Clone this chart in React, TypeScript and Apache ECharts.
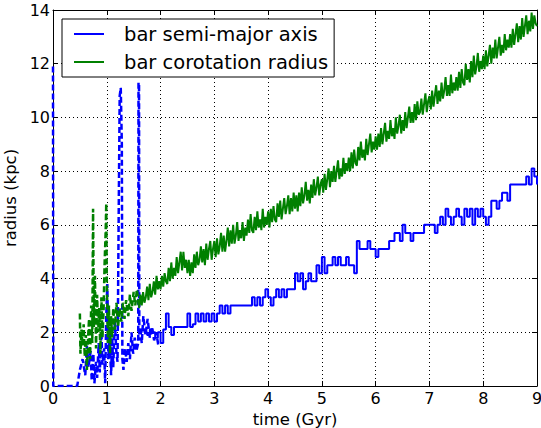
import React, { useEffect, useRef } from "react";
import * as echarts from "echarts";

const xTicks = [0, 1, 2, 3, 4, 5, 6, 7, 8, 9];
const yTicks = [0, 2, 4, 6, 8, 10, 12, 14];

const seriesNames = ["bar semi-major axis", "bar corotation radius"];

// sampling grids of the "solid" (well defined bar) phase
const solidStart = 1.6;
const semiMajorStep = 0.05;
const corotationStep = 0.025;

// bar semi-major axis (kpc), solid phase, 1.60 .. 9.00 Gyr every 0.05 Gyr
const semiMajorSolid = [
  2.0, 2.1, 2.0, 1.9, 2.1, 2.0, 1.8, 2.0,
  1.6, 2.1, 2.7, 2.2, 1.9, 2.2, 2.2, 2.2, 2.2, 2.2,
  2.7, 2.2, 2.3, 2.7, 2.4, 2.7, 2.4, 2.7, 2.4, 2.7,
  2.4, 2.7, 3.0, 2.7, 3.0, 2.7, 3.0, 3.0, 3.0, 3.0,
  3.0, 3.0, 3.0, 3.0, 3.3, 3.0, 3.3, 3.0, 3.3, 3.6,
  3.3, 3.0, 3.3, 3.6, 3.3, 3.6, 3.3, 3.6, 3.6, 3.6,
  4.2, 3.9, 4.2, 3.6, 3.9, 4.2, 3.9, 3.9, 4.5, 4.2,
  4.8, 4.2, 4.5, 4.5, 4.8, 4.5, 4.8, 4.5, 4.5, 4.8,
  4.5, 4.5, 4.2, 5.4, 5.1, 5.1, 5.1, 5.4, 5.1, 5.1,
  4.8, 5.1, 5.1, 5.1, 5.1, 5.4, 5.4, 5.7, 5.7, 5.4,
  6.0, 5.7, 5.7, 5.4, 5.7, 5.7, 5.7, 5.7, 6.0, 6.0,
  6.0, 6.0, 5.7, 6.0, 6.3, 6.0, 6.6, 6.3, 6.0, 6.3,
  6.6, 6.3, 6.0, 6.6, 6.3, 6.6, 6.0, 6.6, 6.3, 6.6,
  6.3, 6.0, 6.3, 6.9, 6.9, 6.6, 6.9, 7.2, 7.2, 6.9,
  7.5, 7.5, 7.5, 7.5, 7.5, 7.5, 7.8, 7.5, 8.1, 7.8,
  7.5,
];

// bar corotation radius (kpc), solid phase, 1.600 .. 9.000 Gyr every 0.025 Gyr
const corotationSolid = [
  2.9, 3.4, 3.0, 3.5, 3.1, 3.3, 3.7, 3.2, 3.8, 3.3, 3.5, 3.9, 3.4, 4.1, 3.6, 3.9,
  3.6, 4.1, 3.7, 4.2, 3.9, 3.8, 4.4, 3.9, 4.6, 4.0, 4.4, 4.1, 4.8, 4.2, 4.6, 5.0, 4.3, 5.0, 4.4, 4.7,
  4.2, 4.7, 4.1, 4.6, 4.2, 4.9, 4.4, 5.0, 4.5, 4.7, 5.2, 4.6, 5.1, 4.5, 5.3, 4.7, 5.1, 5.4, 4.7, 5.1,
  5.4, 4.8, 5.5, 4.9, 5.2, 5.7, 5.0, 5.6, 5.0, 5.4, 5.9, 5.2, 5.8, 5.3, 6.0, 5.3, 5.6, 6.1, 5.4, 5.8,
  5.5, 6.1, 5.4, 5.9, 5.6, 6.2, 5.7, 6.4, 5.8, 5.7, 6.3, 5.8, 6.5, 5.9, 6.2, 5.8, 6.6, 5.9, 6.3, 6.0,
  6.5, 5.9, 6.6, 6.1, 6.7, 6.2, 6.1, 6.8, 6.3, 6.9, 6.2, 6.6, 7.0, 6.4, 6.7, 7.1, 6.4, 7.0, 6.5, 7.2,
  6.6, 7.1, 6.5, 7.2, 6.7, 7.4, 6.8, 7.1, 7.6, 6.9, 7.3, 6.8, 7.5, 7.0, 7.7, 7.1, 7.4, 7.8, 7.1, 7.5,
  7.7, 7.2, 7.9, 7.3, 7.7, 8.1, 7.4, 8.0, 7.6, 8.2, 7.6, 8.0, 8.4, 7.7, 8.1, 7.8, 8.5, 7.9, 8.3, 8.0,
  8.5, 8.0, 8.7, 8.1, 8.8, 8.3, 8.2, 8.9, 8.4, 9.1, 8.5, 8.8, 8.4, 9.2, 8.6, 9.0, 9.4, 8.7, 9.1, 8.8,
  9.3, 8.8, 9.4, 8.9, 9.6, 9.0, 9.4, 9.8, 9.1, 9.5, 9.2, 9.9, 9.3, 9.6, 9.2, 10.0, 9.4, 9.7, 10.1, 9.4,
  9.9, 9.5, 10.2, 9.6, 10.0, 10.4, 9.8, 10.2, 9.8, 10.5, 9.9, 10.6, 10.1, 10.2, 10.7, 10.1, 10.5, 10.9, 10.2, 10.6,
  10.8, 10.3, 11.0, 10.4, 10.8, 11.2, 10.5, 11.0, 10.6, 11.3, 10.7, 11.0, 11.5, 10.8, 11.2, 10.8, 11.6, 10.9, 11.3, 11.0,
  11.5, 11.0, 11.7, 11.1, 11.8, 11.3, 11.2, 12.0, 11.4, 11.8, 11.3, 12.1, 11.5, 12.3, 11.6, 11.9, 12.4, 11.7, 12.1, 11.8,
  12.3, 11.8, 12.5, 11.9, 12.3, 12.7, 12.0, 12.6, 12.2, 12.9, 12.2, 12.6, 13.0, 12.3, 12.7, 12.4, 13.1, 12.5, 12.9, 12.6,
  13.1, 12.6, 13.3, 12.7, 13.1, 13.5, 12.8, 13.4, 12.9, 13.7, 13.0, 13.4, 13.8, 13.1, 13.6, 13.2, 13.9, 13.3, 13.8, 13.5,
  13.4,
];

// early, ill-defined phase: [time (Gyr), radius (kpc)]
const semiMajorEarly: [number, number][] = [
  [0, 11.9], [0.005, 0], [0.45, 0], [0.5, 0.6], [0.55, 1.0], [0.6, 0.4], [0.63, 1.5],
  [0.66, 0.7], [0.7, 1.3], [0.72, 0.2], [0.75, 1.2], [0.77, 0.1], [0.8, 0.9], [0.82, 0.3],
  [0.85, 1.6], [0.87, 0.5], [0.9, 2.0], [0.92, 0.8], [0.95, 1.4], [0.97, 0.1], [0.99, 2.6],
  [1.01, 3.8], [1.03, 1.0], [1.05, 2.2], [1.08, 0.4], [1.1, 1.8], [1.12, 0.7], [1.15, 2.4],
  [1.18, 1.2], [1.2, 0.9], [1.22, 6.0], [1.24, 10.8], [1.26, 11.1], [1.28, 9.0], [1.29, 1.0],
  [1.31, 0.6], [1.34, 1.4], [1.37, 0.9], [1.4, 1.6], [1.43, 1.0], [1.46, 2.0], [1.49, 1.2],
  [1.52, 1.8], [1.55, 1.3], [1.585, 1.6], [1.59, 11.3], [1.6, 11.2], [1.605, 1.7], [1.62, 2.2],
  [1.65, 1.6], [1.68, 2.6], [1.72, 1.9], [1.76, 2.5], [1.8, 1.8], [1.84, 2.2], [1.88, 1.7],
  [1.92, 2.0], [1.96, 1.5],
];

const corotationEarly: [number, number][] = [
  [0.5, 2.7], [0.51, 1.2], [0.53, 2.1], [0.55, 1.5], [0.57, 2.3], [0.59, 1.1], [0.61, 1.9],
  [0.63, 0.6], [0.65, 1.7], [0.67, 2.5], [0.69, 1.0], [0.71, 3.0], [0.73, 1.6], [0.745, 6.6],
  [0.76, 2.2], [0.78, 4.1], [0.8, 1.4], [0.82, 3.4], [0.84, 2.0], [0.86, 2.9], [0.88, 1.2],
  [0.9, 3.3], [0.92, 1.8], [0.94, 2.8], [0.96, 4.6], [0.98, 5.8], [0.99, 6.8], [1.0, 4.0],
  [1.02, 1.6], [1.04, 3.0], [1.06, 1.2], [1.08, 2.6], [1.1, 1.8], [1.12, 2.9], [1.15, 2.1],
  [1.18, 3.1], [1.21, 2.2], [1.24, 2.9], [1.27, 2.4], [1.3, 3.1], [1.33, 2.5], [1.36, 3.2],
  [1.4, 2.6], [1.43, 3.4], [1.46, 2.8], [1.5, 3.5], [1.53, 3.0], [1.56, 3.6], [1.6, 2.9],
];

const BLUE = "#0000ff";
const GREEN = "#008000";
const FONT = "DejaVu Sans";

function toPairs(vals: number[], step: number): [number, number][] {
  return vals.map((v, i) => [Number((solidStart + i * step).toFixed(3)), v]);
}

export default function App() {
  const ref = useRef<HTMLDivElement>(null);
  useEffect(() => {
    if (!ref.current) return;
    const chart = echarts.init(ref.current, undefined, { renderer: "svg" });
    const axisCommon = {
      type: "value" as const,
      axisLine: { show: true, onZero: false, lineStyle: { color: "#000", width: 1 } },
      axisTick: { show: true, inside: true, length: 5, lineStyle: { color: "#000" } },
    };
    chart.setOption({
      animation: false,
      backgroundColor: "#fff",
      grid: {
        left: 53, right: 4, top: 10, bottom: 42,
        containLabel: false, outerBoundsMode: "none",
      },
      legend: {
        data: seriesNames,
        orient: "vertical",
        left: 62,
        top: 19,
        backgroundColor: "#fff",
        borderColor: "#000",
        borderWidth: 1,
        borderRadius: 0,
        padding: [5, 6, 5, 12],
        icon: "rect",
        itemWidth: 30,
        itemHeight: 2,
        itemGap: 8,
        selectedMode: false,
        textStyle: { fontFamily: FONT, fontSize: 19.5, color: "#000", padding: [0, 0, 0, 15] },
      },
      xAxis: [
        {
          ...axisCommon,
          position: "bottom",
          min: 0,
          max: 9,
          interval: 1,
          name: "time (Gyr)",
          nameLocation: "middle",
          nameGap: 10,
          nameTextStyle: { fontFamily: FONT, fontSize: 16.5, color: "#000" },
          axisLabel: {
            fontFamily: FONT, fontSize: 16, color: "#000", margin: 4,
            showMaxLabel: true, showMinLabel: true, hideOverlap: false,
            formatter: (v: number) => (xTicks.includes(v) ? String(v) : ""),
          },
          splitLine: { show: true, lineStyle: { color: "#000", type: [1, 3], width: 1 } },
        },
        {
          ...axisCommon,
          position: "top",
          min: 0,
          max: 9,
          interval: 1,
          axisLabel: { show: false },
          splitLine: { show: false },
        },
      ],
      yAxis: [
        {
          ...axisCommon,
          position: "left",
          min: 0,
          max: 14,
          interval: 2,
          name: "radius (kpc)",
          nameLocation: "middle",
          nameGap: 23,
          nameTextStyle: { fontFamily: FONT, fontSize: 16.5, color: "#000" },
          axisLabel: {
            fontFamily: FONT, fontSize: 16, color: "#000", margin: 3,
            showMaxLabel: true, showMinLabel: true,
            formatter: (v: number) => (yTicks.includes(v) ? String(v) : ""),
          },
          splitLine: { show: true, lineStyle: { color: "#000", type: [1, 3], width: 1 } },
        },
        {
          ...axisCommon,
          position: "right",
          min: 0,
          max: 14,
          interval: 2,
          axisLabel: { show: false },
          splitLine: { show: false },
        },
      ],
      series: [
        {
          name: "semi-major early",
          type: "line",
          data: semiMajorEarly,
          symbol: "none",
          lineStyle: { color: BLUE, width: 2.5, type: [6, 3] },
          itemStyle: { color: BLUE },
          z: 3,
        },
        {
          name: "corotation early",
          type: "line",
          data: corotationEarly,
          symbol: "none",
          lineStyle: { color: GREEN, width: 2.5, type: [6, 3] },
          itemStyle: { color: GREEN },
          z: 4,
        },
        {
          name: seriesNames[0],
          type: "line",
          data: toPairs(semiMajorSolid, semiMajorStep),
          step: "end",
          symbol: "none",
          lineStyle: { color: BLUE, width: 2 },
          itemStyle: { color: BLUE },
          z: 3,
        },
        {
          name: seriesNames[1],
          type: "line",
          data: toPairs(corotationSolid, corotationStep),
          symbol: "none",
          lineStyle: { color: GREEN, width: 2 },
          itemStyle: { color: GREEN },
          z: 4,
        },
      ],
    });
    return () => chart.dispose();
  }, []);
  return (
    <div
      ref={ref}
      style={{ position: "fixed", left: 0, top: 0, width: 541, height: 428, background: "#fff" }}
    />
  );
}
